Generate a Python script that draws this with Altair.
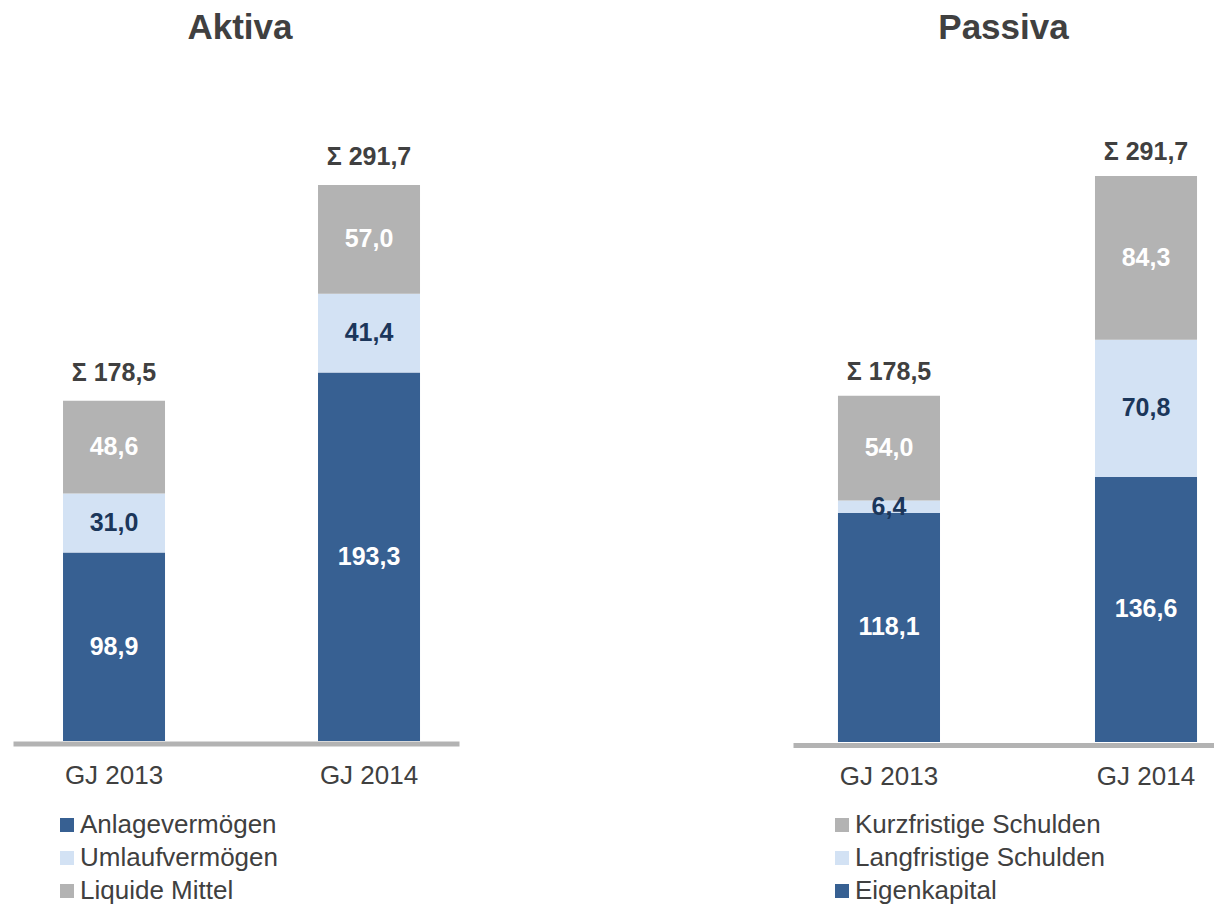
import altair as alt
import pandas as pd

FONT = "Liberation Sans"
DARK = "#376092"
LIGHT = "#D3E2F4"
GRAY = "#B3B3B3"
NAVY = "#1B365A"
TEXT = "#404040"

years = ["GJ 2013", "GJ 2014"]

aktiva_cats = ["Anlagevermögen", "Umlaufvermögen", "Liquide Mittel"]
anlagevermoegen = [98.9, 193.3]
umlaufvermoegen = [31.0, 41.4]
liquide_mittel = [48.6, 57.0]
aktiva_sum = [178.5, 291.7]

passiva_cats = ["Kurzfristige Schulden", "Langfristige Schulden", "Eigenkapital"]
kurzfristige = [54.0, 84.3]
langfristige = [6.4, 70.8]
eigenkapital = [118.1, 136.6]
passiva_sum = [178.5, 291.7]


def fmt(v):
    return f"{v:.1f}".replace(".", ",")


def build_df(series):
    # series: list of (category, values, stack order, label color) bottom -> top
    rows = []
    for cat, vals, ordn, tc in series:
        for yr, v in zip(years, vals):
            rows.append({"year": yr, "cat": cat, "value": v, "ord": ordn,
                         "label": fmt(v), "tc": tc})
    return pd.DataFrame(rows)


def build_sum(sums):
    return pd.DataFrame({"year": years, "total": sums,
                         "label": ["Σ " + fmt(s) for s in sums]})


def panel(df, dsum, legend_domain, legend_range, title, W, H, ymax,
          pi, po, align, lx, ly, sum_dy, axis_offset, label_pad, title_dx,
          title_offset):
    xscale = alt.Scale(paddingInner=pi, paddingOuter=po, align=align)
    x = alt.X("year:N", sort=years, title=None, scale=xscale,
              axis=alt.Axis(labelAngle=0, ticks=False, domainColor=GRAY,
                            domainWidth=5, labelFontSize=26, labelColor=TEXT,
                            labelFont=FONT, labelPadding=label_pad,
                            offset=axis_offset, grid=False))
    yscale = alt.Scale(domain=[0, ymax], nice=False, zero=True)
    bars = alt.Chart(df).mark_bar().encode(
        x=x,
        y=alt.Y("value:Q", stack="zero", scale=yscale, axis=None),
        color=alt.Color("cat:N",
                        scale=alt.Scale(domain=legend_domain, range=legend_range),
                        legend=alt.Legend(orient="none", legendX=lx, legendY=ly,
                                          title=None, symbolType="square",
                                          symbolSize=196, symbolStrokeWidth=0,
                                          labelFontSize=26, labelFont=FONT,
                                          labelColor=TEXT, rowPadding=7,
                                          labelOffset=0, padding=0,
                                          direction="vertical", labelLimit=400)),
        order=alt.Order("ord:Q", sort="ascending"),
    )
    labels = alt.Chart(df).transform_stack(
        stack="value", groupby=["year"], sort=[alt.SortField("ord", order="ascending")],
        as_=["y0", "y1"]
    ).transform_calculate(
        mid="(datum.y0 + datum.y1) / 2"
    ).mark_text(fontSize=25, fontWeight="bold", font=FONT, baseline="middle").encode(
        x=alt.X("year:N", sort=years),
        y=alt.Y("mid:Q"),
        text="label:N",
        color=alt.Color("tc:N", scale=None),
    )
    sums = alt.Chart(dsum).mark_text(fontSize=25, fontWeight="bold", font=FONT,
                                     baseline="middle", dy=sum_dy, color=TEXT).encode(
        x=alt.X("year:N", sort=years),
        y=alt.Y("total:Q"),
        text="label:N",
    )
    return alt.layer(bars, labels, sums).properties(
        width=W, height=H,
        title=alt.TitleParams(text=title, fontSize=35, font=FONT, fontWeight="bold",
                              color=TEXT, anchor="middle", offset=title_offset,
                              dx=title_dx),
    )


df_a = build_df([
    ("Anlagevermögen", anlagevermoegen, 0, "white"),
    ("Umlaufvermögen", umlaufvermoegen, 1, NAVY),
    ("Liquide Mittel", liquide_mittel, 2, "white"),
])
df_p = build_df([
    ("Eigenkapital", eigenkapital, 0, "white"),
    ("Langfristige Schulden", langfristige, 1, NAVY),
    ("Kurzfristige Schulden", kurzfristige, 2, "white"),
])

T = 100
left = panel(df_a, build_sum(aktiva_sum), aktiva_cats, [DARK, LIGHT, GRAY],
             "Aktiva", 446, 741 - T, (741 - T) / 1.906,
             0.6, 0.1745, 0.562, 41, 812 - T, -28, 2.5, 19, 4, 54)
right = panel(df_p, build_sum(passiva_sum), passiva_cats, [GRAY, LIGHT, DARK],
              "Passiva", 421, 742 - T, (742 - T) / 1.940,
              0.603, 0.1205, 0.726, 36, 812 - T, -24, 3, 18.5, 0, 54)

chart = alt.hconcat(left, right, spacing=334).resolve_scale(
    color="independent", x="independent", y="independent"
).resolve_legend(color="independent").configure_view(stroke=None).properties(
    padding={"left": 5, "top": 3, "right": 0, "bottom": 0}
)

chart.save("out.html", embed_options={"renderer": "svg", "actions": False})
